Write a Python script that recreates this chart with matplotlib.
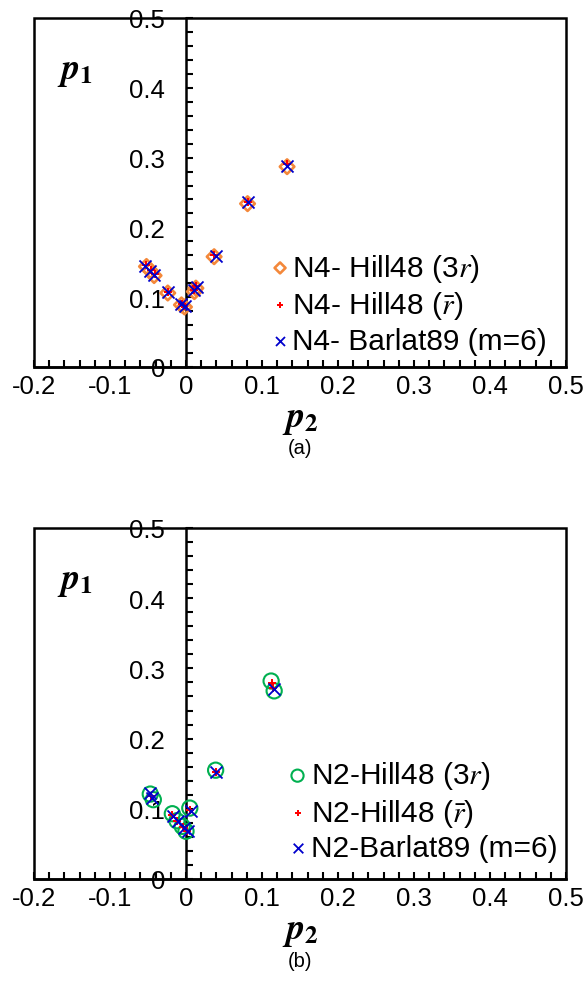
import matplotlib
matplotlib.use("Agg")
import matplotlib.pyplot as plt
from matplotlib.ticker import MultipleLocator, FixedLocator
from matplotlib.patches import Rectangle

plt.rcParams['font.family'] = ['Liberation Sans', 'DejaVu Sans']
plt.rcParams['mathtext.fontset'] = 'stix'

# (a) N4 material: normalised strain-path components
a_hill3r_p2 = [-0.052, -0.047, -0.042, -0.024, -0.006, -0.002, 0.011, 0.013, 0.037, 0.081, 0.133]
a_hill3r_p1 = [0.144, 0.138, 0.131, 0.106, 0.089, 0.086, 0.108, 0.113, 0.158, 0.234, 0.287]
a_hillr_p2 = [-0.052, -0.046, -0.041, -0.024, -0.005, -0.002, 0.011, 0.013, 0.037, 0.081, 0.133]
a_hillr_p1 = [0.146, 0.139, 0.133, 0.108, 0.090, 0.087, 0.110, 0.116, 0.160, 0.237, 0.291]
a_barlat_p2 = [-0.054, -0.048, -0.042, -0.024, -0.006, -0.001, 0.011, 0.014, 0.039, 0.081, 0.133]
a_barlat_p1 = [0.145, 0.138, 0.132, 0.107, 0.090, 0.088, 0.111, 0.115, 0.159, 0.236, 0.288]

# (b) N2 material
b_hill3r_p2 = [-0.047, -0.043, -0.018, -0.012, -0.005, 0.000, 0.005, 0.039, 0.112, 0.116]
b_hill3r_p1 = [0.121, 0.113, 0.093, 0.083, 0.075, 0.068, 0.101, 0.155, 0.282, 0.268]
b_hillr_p2 = [-0.046, -0.018, -0.012, -0.004, 0.001, 0.005, 0.039, 0.113, 0.115]
b_hillr_p1 = [0.118, 0.091, 0.082, 0.074, 0.069, 0.099, 0.153, 0.279, 0.272]
b_barlat_p2 = [-0.047, -0.045, -0.017, -0.010, -0.003, 0.002, 0.006, 0.040, 0.116]
b_barlat_p1 = [0.122, 0.115, 0.090, 0.082, 0.073, 0.069, 0.097, 0.152, 0.270]

x_ticks = [-0.2, -0.1, 0, 0.1, 0.2, 0.3, 0.4, 0.5]
x_labels = ['-0.2', '-0.1', '0', '0.1', '0.2', '0.3', '0.4', '0.5']
y_ticks = [0, 0.1, 0.2, 0.3, 0.4, 0.5]
y_labels = ['0', '0.1', '0.2', '0.3', '0.4', '0.5']

W, H = 587, 1003
fig = plt.figure(figsize=(W / 100, H / 100), dpi=100)


def make_axes(top_px, bottom_px):
    ax = fig.add_axes([34 / W, 1 - bottom_px / H, 532 / W, (bottom_px - top_px) / H])
    ax.set_xlim(-0.2, 0.5)
    ax.set_ylim(0, 0.5)
    ax.spines['left'].set_position(('data', 0))
    for s in ax.spines.values():
        s.set_linewidth(1.8)
    ax.spines['top'].set_visible(False)
    ax.spines['right'].set_visible(False)
    ax.add_patch(Rectangle((0, 0), 1, 1, transform=ax.transAxes, fill=False,
                           lw=1.8, edgecolor='black', clip_on=False, zorder=5))
    ax.xaxis.set_major_locator(FixedLocator(x_ticks))
    ax.set_xticklabels(x_labels)
    ax.yaxis.set_major_locator(FixedLocator(y_ticks))
    ax.set_yticklabels(y_labels)
    ax.xaxis.set_minor_locator(MultipleLocator(0.02))
    ax.yaxis.set_minor_locator(MultipleLocator(0.02))
    ax.tick_params(axis='both', which='both', direction='in', width=1.5,
                   length=5, labelsize=18.5)
    ax.tick_params(axis='x', which='major', pad=5)
    ax.tick_params(axis='y', which='major', pad=15)
    for lbl in ax.get_yticklabels():
        lbl.set_clip_on(False)
    ax.set_xlabel(r'$\mathbfit{p}_\mathbf{2}$', fontsize=26, labelpad=2)
    ax.text(0.077, 0.85, r'$\mathbfit{p}_\mathbf{1}$', transform=ax.transAxes,
            fontsize=26, ha='center', va='center')
    return ax


# panel (a)
ax1 = make_axes(19, 368)
ax1.scatter(a_hill3r_p2, a_hill3r_p1, marker='D', s=55, facecolors='none',
            edgecolors='#F4883A', linewidths=1.9, label=r'N4- Hill48 (3$r$)', zorder=3)
ax1.scatter(a_hillr_p2, a_hillr_p1, marker='P', s=35, color='#FF0000',
            linewidths=0, label=r'N4- Hill48 ($\bar{r}$)', zorder=4)
ax1.scatter(a_barlat_p2, a_barlat_p1, marker='x', s=75, color='#0000CC',
            linewidths=1.3, label='N4- Barlat89 (m=6)', zorder=5)
ax1.legend(loc='upper left', bbox_to_anchor=(0.412, 0.373), frameon=False,
           fontsize=21.5, handletextpad=0.0, labelspacing=0.18, borderpad=0,
           handlelength=0.8, markerscale=0.75)
fig.text(300 / W, 1 - 449 / H, '(a)', ha='center', va='center', fontsize=14.5)

# panel (b)
ax2 = make_axes(529, 880)
ax2.scatter(b_hill3r_p2, b_hill3r_p1, marker='o', s=120, facecolors='none',
            edgecolors='#00B050', linewidths=1.5, label=r'N2-Hill48 (3$r$)', zorder=3)
ax2.scatter(b_hillr_p2, b_hillr_p1, marker='P', s=35, color='#FF0000',
            linewidths=0, label=r'N2-Hill48 ($\bar{r}$)', zorder=4)
ax2.scatter(b_barlat_p2, b_barlat_p1, marker='x', s=75, color='#0000CC',
            linewidths=1.3, label='N2-Barlat89 (m=6)', zorder=5)
ax2.legend(loc='upper left', bbox_to_anchor=(0.442, 0.383), frameon=False,
           fontsize=21.5, handletextpad=0.0, labelspacing=0.18, borderpad=0,
           handlelength=0.9, markerscale=0.8)
fig.text(300 / W, 1 - 962 / H, '(b)', ha='center', va='center', fontsize=14.5)

fig.savefig('out.png', dpi=100)
